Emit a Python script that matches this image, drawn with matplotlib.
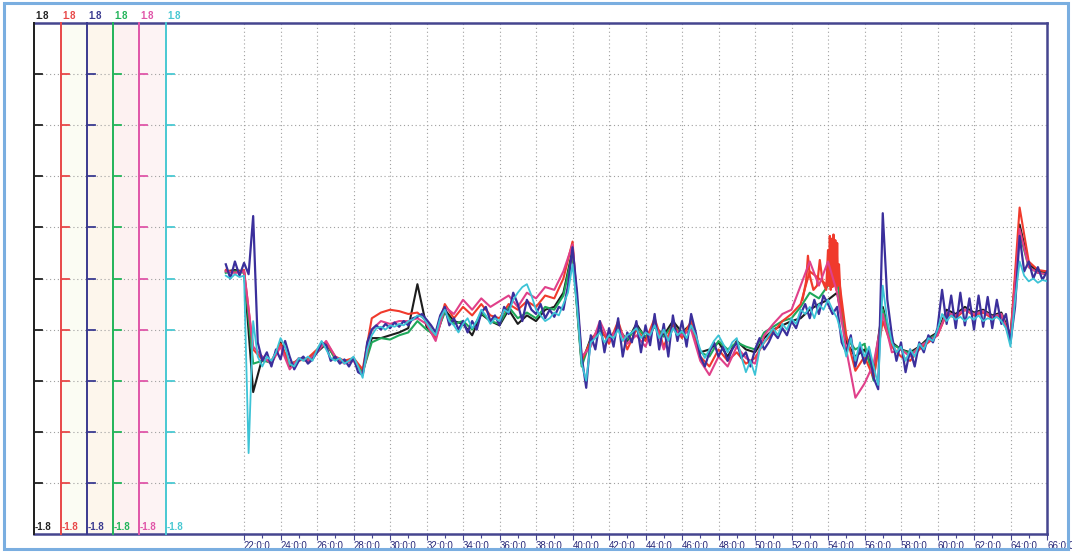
import numpy as np
import matplotlib
matplotlib.use('Agg')
import matplotlib.pyplot as plt
from matplotlib.patches import Rectangle

# time grids (hours) for the sampled traces
fine_times = np.arange(21.0, 66.001, 0.25)
coarse_times = np.arange(21.0, 66.001, 0.5)

hour_ticks = list(range(22, 67, 2))
channel_names = ['black', 'red', 'navy', 'green', 'magenta', 'cyan']
scale_top = ['1.8', '1.8', '1.8', '1.8', '1.8', '1.8']
scale_bottom = ['-1.8', '-1.8', '-1.8', '-1.8', '-1.8', '-1.8']

navy_vals = [
    0.10, 0.00, 0.12, 0.02, 0.11, 0.03, 0.44, -0.45, -0.58, -0.52,
    -0.62, -0.50, -0.57, -0.44, -0.55, -0.64, -0.58, -0.55, -0.60, -0.57,
    -0.52, -0.45, -0.47, -0.58, -0.55, -0.60, -0.57, -0.62, -0.56, -0.66,
    -0.68, -0.45, -0.36, -0.33, -0.36, -0.32, -0.35, -0.31, -0.34, -0.30,
    -0.33, -0.28, -0.27, -0.25, -0.29, -0.33, -0.38, -0.26, -0.20, -0.33,
    -0.28, -0.36, -0.30, -0.38, -0.30, -0.36, -0.24, -0.20, -0.30, -0.26,
    -0.33, -0.20, -0.25, -0.10, -0.18, -0.30, -0.15, -0.22, -0.25, -0.18,
    -0.28, -0.22, -0.27, -0.20, -0.22, -0.05, 0.22, -0.10, -0.55, -0.77,
    -0.40, -0.50, -0.30, -0.52, -0.35, -0.48, -0.28, -0.55, -0.38, -0.45,
    -0.30, -0.52, -0.33, -0.47, -0.25, -0.50, -0.32, -0.55, -0.26, -0.44,
    -0.30, -0.48, -0.25, -0.38, -0.55, -0.62, -0.52, -0.45, -0.55, -0.48,
    -0.58, -0.50, -0.45, -0.56, -0.52, -0.62, -0.50, -0.42, -0.50, -0.45,
    -0.38, -0.42, -0.35, -0.40, -0.30, -0.35, -0.25, -0.18, -0.28, -0.15,
    -0.25, -0.12, -0.18, -0.25, -0.20, -0.45, -0.52, -0.40, -0.62, -0.48,
    -0.60, -0.50, -0.70, -0.78, 0.46, -0.15, -0.40, -0.58, -0.45, -0.66,
    -0.50, -0.62, -0.45, -0.52, -0.40, -0.45, -0.35, -0.08, -0.32, -0.12,
    -0.35, -0.10, -0.33, -0.14, -0.36, -0.12, -0.34, -0.13, -0.35, -0.15,
    -0.32, -0.25, -0.45, -0.20, 0.30, 0.05, 0.12, 0.00, 0.08, -0.01,
    0.05,
]

cyan_vals = [
    0.02, 0.00, 0.03, 0.01, 0.02, -1.23, -0.30, -0.55, -0.62, -0.55,
    -0.58, -0.52, -0.42, -0.48, -0.60, -0.62, -0.56, -0.58, -0.55, -0.58,
    -0.50, -0.44, -0.50, -0.56, -0.58, -0.56, -0.60, -0.58, -0.55, -0.62,
    -0.70, -0.50, -0.40, -0.35, -0.34, -0.36, -0.33, -0.34, -0.32, -0.33,
    -0.30, -0.29, -0.26, -0.27, -0.31, -0.36, -0.40, -0.28, -0.22, -0.30,
    -0.33, -0.38, -0.32, -0.28, -0.35, -0.30, -0.22, -0.26, -0.32, -0.28,
    -0.30, -0.22, -0.24, -0.15, -0.10, -0.06, -0.04, -0.12, -0.22, -0.26,
    -0.30, -0.28, -0.24, -0.26, -0.18, -0.10, 0.10, -0.20, -0.60, -0.72,
    -0.45, -0.42, -0.38, -0.45, -0.40, -0.42, -0.36, -0.44, -0.40, -0.38,
    -0.35, -0.42, -0.38, -0.40, -0.33, -0.42, -0.36, -0.44, -0.35, -0.40,
    -0.37, -0.42, -0.33, -0.40, -0.50, -0.56, -0.50, -0.44, -0.40, -0.46,
    -0.52, -0.45, -0.42, -0.55, -0.66, -0.58, -0.68, -0.50, -0.45, -0.40,
    -0.35, -0.40, -0.32, -0.36, -0.28, -0.32, -0.22, -0.25, -0.20, -0.28,
    -0.18, -0.22, -0.15, -0.22, -0.28, -0.40, -0.55, -0.42, -0.58, -0.45,
    -0.55, -0.48, -0.62, -0.75, -0.05, -0.30, -0.45, -0.52, -0.48, -0.58,
    -0.50, -0.55, -0.46, -0.50, -0.42, -0.44, -0.36, -0.25, -0.30, -0.26,
    -0.29, -0.27, -0.30, -0.27, -0.29, -0.26, -0.30, -0.28, -0.29, -0.27,
    -0.30, -0.35, -0.48, -0.15, 0.12, 0.02, -0.02, 0.00, -0.03, -0.01,
    -0.02,
]

black_vals = [
    0.05, 0.06, 0.05, -0.80, -0.56, -0.60, -0.45, -0.62, -0.57, -0.58,
    -0.52, -0.46, -0.56, -0.58, -0.57, -0.66, -0.42, -0.42, -0.40, -0.38,
    -0.35, -0.04, -0.34, -0.42, -0.22, -0.30, -0.32, -0.40, -0.25, -0.30,
    -0.33, -0.22, -0.32, -0.26, -0.30, -0.22, -0.20, -0.10, 0.20, -0.60,
    -0.42, -0.38, -0.42, -0.35, -0.44, -0.32, -0.42, -0.34, -0.40, -0.30,
    -0.38, -0.32, -0.52, -0.50, -0.45, -0.55, -0.44, -0.50, -0.52, -0.42,
    -0.36, -0.33, -0.30, -0.28, -0.22, -0.18, -0.15, -0.10, -0.45, -0.55,
    -0.50, -0.65, -0.20, -0.45, -0.50, -0.52, -0.48, -0.42, -0.38, -0.22,
    -0.25, -0.20, -0.24, -0.22, -0.26, -0.24, -0.40, 0.38, 0.10, 0.05,
    0.04,
]

red_vals = [
    0.06, 0.04, 0.06, -0.50, -0.57, -0.58, -0.46, -0.60, -0.58, -0.56,
    -0.50, -0.45, -0.55, -0.58, -0.56, -0.64, -0.28, -0.24, -0.22, -0.23,
    -0.25, -0.24, -0.30, -0.42, -0.18, -0.28, -0.20, -0.26, -0.18, -0.26,
    -0.28, -0.18, -0.22, -0.16, -0.20, -0.12, -0.14, 0.00, 0.26, -0.58,
    -0.44, -0.34, -0.46, -0.30, -0.50, -0.36, -0.44, -0.28, -0.48, -0.32,
    -0.42, -0.30, -0.55, -0.62, -0.50, -0.58, -0.52, -0.60, -0.56, -0.45,
    -0.38, -0.30, -0.25, -0.18, 0.05, 0.00, -0.05, 0.10, -0.40, -0.65,
    -0.55, -0.70, -0.30, -0.48, -0.55, -0.58, -0.50, -0.45, -0.40, -0.25,
    -0.28, -0.22, -0.26, -0.24, -0.28, -0.26, -0.42, 0.50, 0.12, 0.06,
    0.05,
]

red_burst_times = [52.6, 52.8, 52.9, 53.0, 53.2, 53.4, 53.55, 53.7, 53.9, 54.0,
                   54.05, 54.1, 54.15, 54.2, 54.25, 54.3, 54.35, 54.4, 54.45,
                   54.5, 54.55, 54.6, 54.75]
red_burst_vals = [-0.15, -0.02, 0.16, 0.02, -0.08, -0.05, 0.13, -0.02, -0.08, 0.20,
                  -0.05, 0.30, -0.08, 0.28, -0.06, 0.31, -0.05, 0.27, -0.08,
                  0.25, -0.05, 0.10, -0.30]

magenta_vals = [
    0.05, 0.04, 0.05, -0.48, -0.55, -0.60, -0.48, -0.64, -0.56, -0.58,
    -0.52, -0.44, -0.55, -0.60, -0.58, -0.68, -0.36, -0.30, -0.32, -0.30,
    -0.30, -0.28, -0.32, -0.44, -0.20, -0.25, -0.15, -0.22, -0.14, -0.20,
    -0.16, -0.12, -0.20, -0.10, -0.14, -0.06, -0.08, 0.05, 0.24, -0.55,
    -0.48, -0.30, -0.44, -0.34, -0.46, -0.40, -0.48, -0.30, -0.50, -0.35,
    -0.40, -0.36, -0.58, -0.68, -0.55, -0.62, -0.48, -0.56, -0.60, -0.40,
    -0.32, -0.25, -0.22, -0.05, 0.12, -0.05, 0.12, -0.10, -0.50, -0.84,
    -0.74, -0.60, -0.25, -0.52, -0.50, -0.55, -0.48, -0.44, -0.40, -0.24,
    -0.26, -0.22, -0.25, -0.23, -0.27, -0.25, -0.44, 0.35, 0.08, 0.04,
    0.03,
]

green_vals = [
    0.04, 0.05, 0.04, -0.60, -0.58, -0.59, -0.47, -0.61, -0.57, -0.57,
    -0.51, -0.45, -0.57, -0.59, -0.57, -0.66, -0.45, -0.42, -0.43, -0.40,
    -0.38, -0.30, -0.36, -0.40, -0.24, -0.32, -0.30, -0.36, -0.24, -0.30,
    -0.32, -0.20, -0.28, -0.24, -0.28, -0.20, -0.22, -0.12, 0.18, -0.62,
    -0.43, -0.37, -0.43, -0.36, -0.43, -0.34, -0.41, -0.33, -0.41, -0.33,
    -0.39, -0.33, -0.52, -0.55, -0.44, -0.50, -0.45, -0.48, -0.50, -0.38,
    -0.34, -0.30, -0.28, -0.20, -0.10, -0.14, -0.05, -0.02, -0.42, -0.50,
    -0.46, -0.72, -0.22, -0.46, -0.50, -0.53, -0.49, -0.43, -0.39, -0.24,
    -0.27, -0.22, -0.25, -0.23, -0.27, -0.25, -0.42, 0.32, 0.08, 0.04,
    0.03,
]

COLORS = {
    'black': '#1c1c1c',
    'red': '#f03a2c',
    'navy': '#3b2f9c',
    'green': '#1fa85a',
    'magenta': '#e0408a',
    'cyan': '#3cc3d6',
}
AXIS_COLORS = ['#222222', '#e84848', '#3a3a90', '#22b45a', '#e055a8', '#48c8d2']
NAVY_FRAME = '#45458f'

fig = plt.figure(figsize=(10.72, 5.52), dpi=100)
fig.patch.set_facecolor('white')
fig.patches.append(Rectangle((0.004, 0.006), 0.992, 0.988, transform=fig.transFigure,
                             fill=False, edgecolor='#7aaee0', linewidth=2.2))

ax = fig.add_axes([34 / 1072, 1 - 534 / 552, (1047 - 34) / 1072, (534 - 23) / 552])
ax.set_xlim(10.49, 66.0)
ax.set_ylim(-1.8, 1.8)

# faint tints behind the channel scales
strip_pos = [0.0, 0.0267, 0.0523, 0.0780, 0.1037, 0.1303]
tints = ['#ffffff', '#fbfcf3', '#fdf6ec', '#fdf1f1', '#fdf3f4']
for i in range(5):
    ax.add_patch(Rectangle((strip_pos[i], 0), strip_pos[i + 1] - strip_pos[i], 1,
                           transform=ax.transAxes, facecolor=tints[i], edgecolor='none', zorder=0))

# grid
grid_levels = np.linspace(-1.8, 1.8, 11)
for lvl in grid_levels[1:-1]:
    ax.axhline(lvl, color='#a0a0a0', lw=0.8, ls=(0, (1, 2.5)), zorder=1)
for h in hour_ticks[:-1]:
    ax.axvline(h, color='#a0a0a0', lw=0.8, ls=(0, (1, 2.5)), zorder=1)

# channel scale lines, ticks and labels
for i, name in enumerate(channel_names):
    xf = strip_pos[i]
    ax.plot([xf, xf], [0, 1], transform=ax.transAxes, color=AXIS_COLORS[i],
            lw=1.4, zorder=3, clip_on=False)
    for lvl in grid_levels[1:-1]:
        yf = (lvl + 1.8) / 3.6
        ax.plot([xf, xf + 0.008], [yf, yf], transform=ax.transAxes,
                color=AXIS_COLORS[i], lw=1.3, zorder=3)
    ax.text(xf + 0.001, 1.003, scale_top[i], transform=ax.transAxes, color=AXIS_COLORS[i],
            fontsize=7, fontweight='bold', ha='left', va='bottom', family='Liberation Sans')
    ax.text(xf + 0.001, 0.003, scale_bottom[i], transform=ax.transAxes, color=AXIS_COLORS[i],
            fontsize=7, fontweight='bold', ha='left', va='bottom', family='Liberation Sans')

# traces
ax.plot(coarse_times, black_vals, color=COLORS['black'], lw=1.5, zorder=4)
ax.plot(coarse_times, green_vals, color=COLORS['green'], lw=1.5, zorder=4)
ax.plot(coarse_times, red_vals, color=COLORS['red'], lw=1.5, zorder=4)
ax.plot(red_burst_times, red_burst_vals, color=COLORS['red'], lw=1.6, zorder=4)
ax.plot(coarse_times, magenta_vals, color=COLORS['magenta'], lw=1.5, zorder=4)
ax.plot(fine_times, navy_vals, color=COLORS['navy'], lw=1.6, zorder=5)
ax.plot(fine_times, cyan_vals, color=COLORS['cyan'], lw=1.3, zorder=6)

# spines
for side in ['top', 'right', 'bottom']:
    ax.spines[side].set_color(NAVY_FRAME)
    ax.spines[side].set_linewidth(1.8)
ax.spines['left'].set_color('#222222')
ax.spines['left'].set_linewidth(1.4)

ax.set_yticks([])
ax.set_xticks(hour_ticks)
ax.set_xticks([h + 1 for h in hour_ticks[:-1]], minor=True)
ax.set_xticklabels([f'{h}:0:0' for h in hour_ticks], fontsize=7, color='#2a2a7a',
                   ha='left', family='Liberation Sans')
ax.tick_params(axis='x', which='major', length=4, width=0.8, color=NAVY_FRAME, pad=1)
ax.tick_params(axis='x', which='minor', length=3, width=0.8, color=NAVY_FRAME)

fig.savefig('out.png', dpi=100)
